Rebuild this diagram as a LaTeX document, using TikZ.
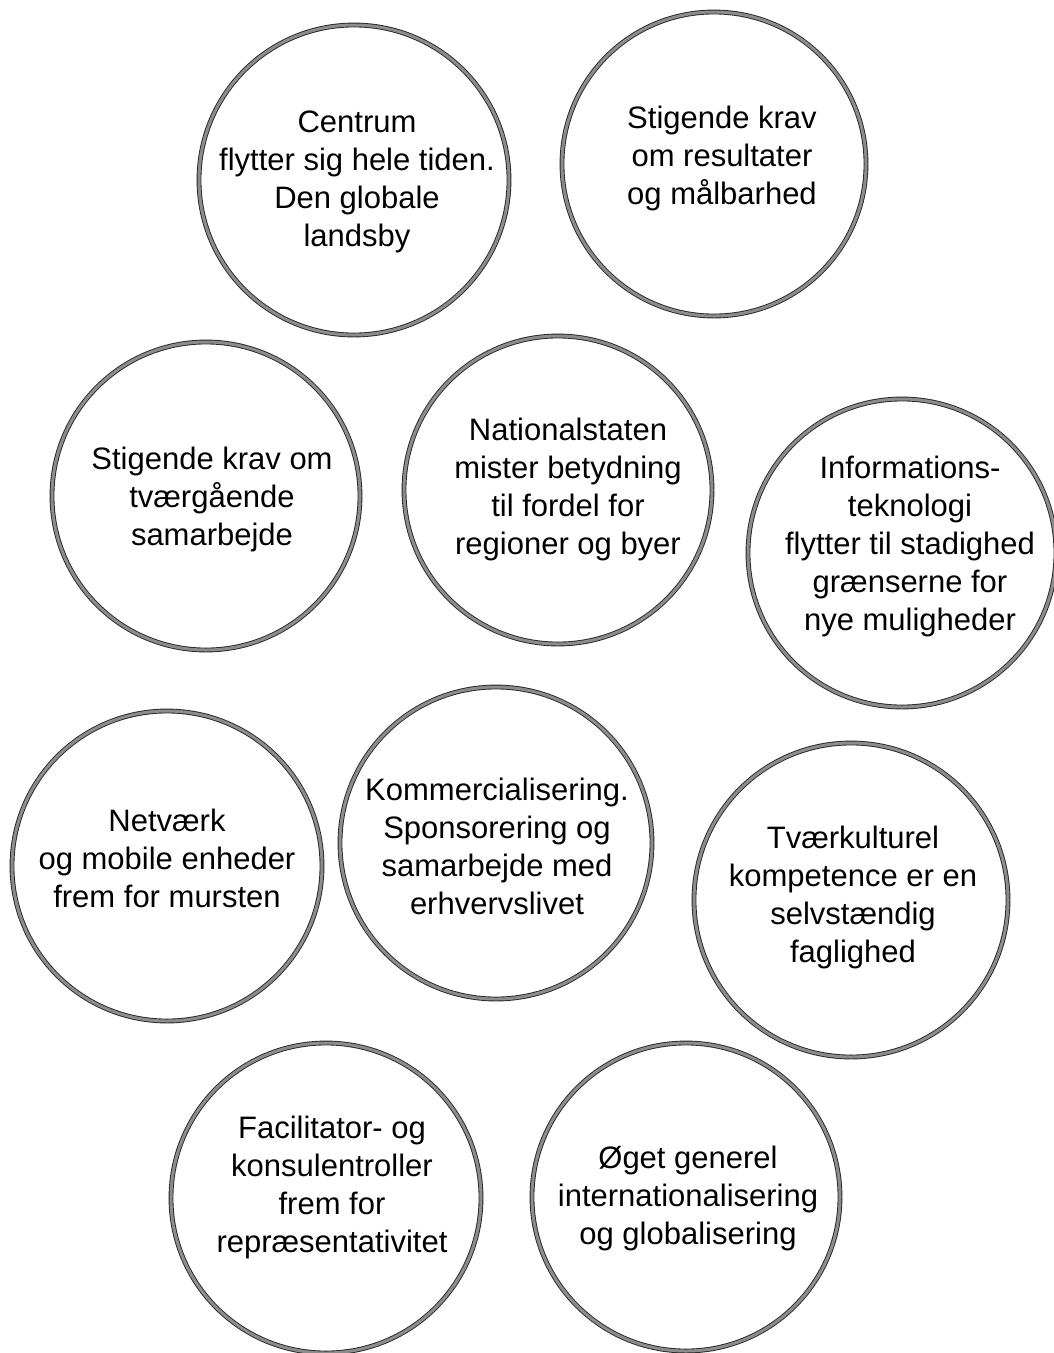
\documentclass[tikz,border=0pt]{standalone}
\usepackage{fontspec}
\setmainfont{Liberation Sans}
\begin{document}
\begin{tikzpicture}[x=1pt,y=-1pt,
  bubble/.style={circle, draw=black!85, line width=0.9pt,
    double=black!45, double distance=3pt, inner sep=0pt},
  txt/.style={align=center, font=\fontsize{31}{38}\selectfont, inner sep=0pt}]
\useasboundingbox (0,0) rectangle (1054,1353);
\fill[white] (0,0) rectangle (1054,1353);

% circles: centre and diameter
\node[bubble, minimum size=310] (c1)  at (354,180)  {};
\node[bubble, minimum size=304] (c2)  at (714,164)  {};
\node[bubble, minimum size=308] (c3)  at (206,496)  {};
\node[bubble, minimum size=308] (c4)  at (558,490)  {};
\node[bubble, minimum size=308] (c5)  at (902,553)  {};
\node[bubble, minimum size=310] (c6)  at (167,866)  {};
\node[bubble, minimum size=312] (c7)  at (496,843)  {};
\node[bubble, minimum size=314] (c8)  at (851,900)  {};
\node[bubble, minimum size=310] (c9)  at (326,1198) {};
\node[bubble, minimum size=308] (c10) at (686,1197) {};

% texts inside the circles
\node[txt] (t1)  at (357,182)  {Centrum\\flytter sig hele tiden.\\Den globale\\landsby};
\node[txt] (t2)  at (722,158)  {Stigende krav\\om resultater\\og målbarhed};
\node[txt] (t3)  at (212,499)  {Stigende krav om\\tværgående\\samarbejde};
\node[txt] (t4)  at (568,489)  {Nationalstaten\\mister betydning\\til fordel for\\regioner og byer};
\node[txt] (t5)  at (910,546)  {Informations-\\teknologi\\flytter til stadighed\\grænserne for\\nye muligheder};
\node[txt] (t6)  at (167,858)  {Netværk\\og mobile enheder\\frem for mursten};
\node[txt] (t7)  at (497,846)  {Kommercialisering.\\Sponsorering og\\samarbejde med\\erhvervslivet};
\node[txt] (t8)  at (853,897)  {Tværkulturel\\kompetence er en\\selvstændig\\faglighed};
\node[txt] (t9)  at (332,1187) {Facilitator- og\\konsulentroller\\frem for\\repræsentativitet};
\node[txt] (t10) at (688,1198) {Øget generel\\internationalisering\\og globalisering};
\end{tikzpicture}
\end{document}
